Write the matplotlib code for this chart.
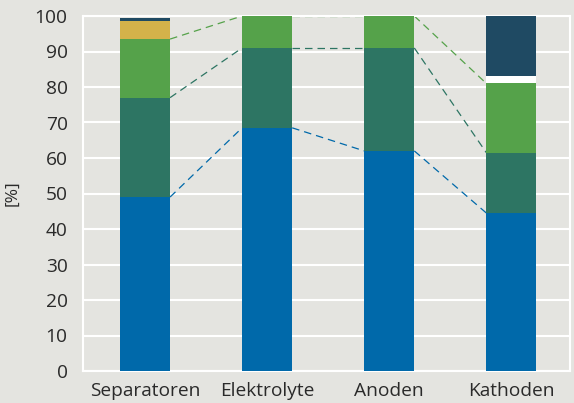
import numpy as np
import matplotlib.pyplot as plt

plt.rcParams['font.family'] = ['Open Sans', 'DejaVu Sans']

categories = ["Separatoren", "Elektrolyte", "Anoden", "Kathoden"]
# cumulative segment tops in %
blue = [49, 68.5, 62, 44.5]
teal = [77, 91, 91, 61.5]
green = [93.5, 100, 100, 81]
white = [93.5, 100, 100, 83]
yellow = [98.5, 100, 100, 83]
navy = [99.5, 100, 100, 100]

bg = "#E4E4E0"
colors = ["#0069AA", "#2D7563", "#55A24A", "#FFFFFF", "#D4B24A", "#1F4A63"]
tops = [blue, teal, green, white, yellow, navy]

fig = plt.figure(figsize=(5.74, 4.03), dpi=100, facecolor=bg)
ax = fig.add_axes([83/574, 1 - 371/403, (570-83)/574, (371-16)/403])
ax.set_facecolor(bg)

x = np.arange(len(categories))
w = 0.41
bottom = np.zeros(len(categories))
for t, c in zip(tops, colors):
    t = np.array(t, dtype=float)
    ax.bar(x, t - bottom, w, bottom=bottom, color=c, zorder=3)
    bottom = t

# dashed connectors
for t, c in zip([blue, teal, green], colors[:3]):
    for i in range(len(x) - 1):
        ax.plot([x[i] + w/2, x[i+1] - w/2], [t[i], t[i+1]], ls=(0, (6, 4)),
                color=c, lw=0.9, zorder=2)

ax.set_ylim(0, 100)
ax.set_xlim(-0.508, 3.48)
ax.set_yticks(np.arange(0, 101, 10))
ax.set_xticks(x)
ax.set_xticklabels(categories)
ax.grid(axis="y", color="white", lw=1.5, zorder=1)
ax.tick_params(length=0, labelsize=13.8, colors="#2a2a2a")
ax.tick_params(axis="y", pad=11)
ax.tick_params(axis="x", pad=8)
for s in ax.spines.values():
    s.set_color("white")
    s.set_linewidth(1.5)
ax.set_ylabel("[%]", fontsize=12.5, color="#2a2a2a", labelpad=10)

plt.savefig("out.png", dpi=100, facecolor=bg)
